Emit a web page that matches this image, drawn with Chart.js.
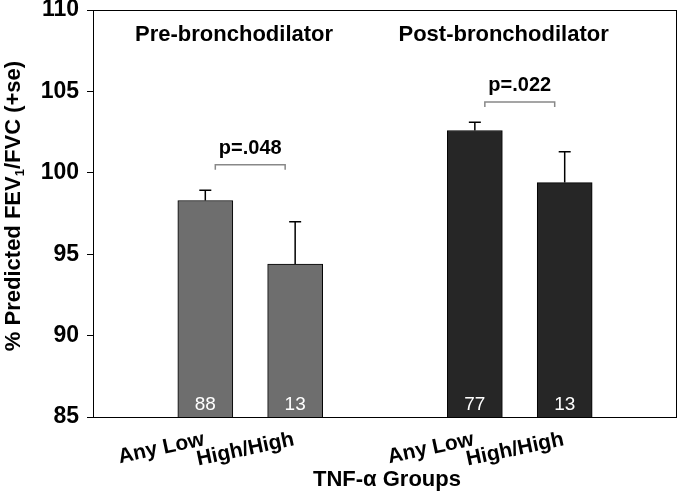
<!DOCTYPE html>
<html>
<head>
<meta charset="utf-8">
<script src="https://cdn.jsdelivr.net/npm/chart.js@4/dist/chart.umd.min.js"></script>
<style>
  html, body { margin: 0; padding: 0; background: #fff; }
  #wrap { width: 680px; height: 496px; position: relative; }
</style>
</head>
<body>
<div id="wrap"><canvas id="barChart"></canvas></div>
<script>
var groups = ['Pre-bronchodilator', 'Post-bronchodilator'];
var subgroups = ['Any Low', 'High/High'];
var preMeans = [98.3, 94.4];
var postMeans = [102.6, 99.4];
var preSE = [0.63, 2.6];
var postSE = [0.5, 1.9];
var preN = [88, 13];
var postN = [77, 13];
var pLabels = ['p=.048', 'p=.022'];
var pBracketLevels = [100.5, 104.35];
var yTicks = [85, 90, 95, 100, 105, 110];

var means = [preMeans, postMeans];
var errors = [preSE, postSE];
var counts = [preN, postN];
var colors = ['#6e6e6e', '#262626'];

// each group takes 3 slots on the x scale: two bars and an empty gap
function slot(g, j) { return g * 3 + j; }

var datasets = [];
for (var g = 0; g < groups.length; g++) {
    var pts = [];
    for (var j = 0; j < subgroups.length; j++) {
        pts.push({ x: slot(g, j), y: means[g][j] });
    }
    datasets.push({
        label: groups[g],
        data: pts,
        backgroundColor: colors[g],
        borderColor: '#000',
        borderWidth: 1,
        borderSkipped: false,
        barThickness: 55,
        grouped: false
    });
}

var FONT = '"Liberation Sans", Arial, sans-serif';

var decorations = {
    id: 'decorations',
    afterDatasetsDraw: function (chart) {
        var ctx = chart.ctx;
        var xs = chart.scales.x, ys = chart.scales.y;
        var area = chart.chartArea;
        ctx.save();

        // error bars
        ctx.strokeStyle = '#000';
        ctx.lineWidth = 1.5;
        for (var g = 0; g < groups.length; g++) {
            for (var j = 0; j < subgroups.length; j++) {
                var cx = xs.getPixelForValue(slot(g, j));
                var top = ys.getPixelForValue(means[g][j]);
                var end = ys.getPixelForValue(means[g][j] + errors[g][j]);
                ctx.beginPath();
                ctx.moveTo(cx, top);
                ctx.lineTo(cx, end);
                ctx.moveTo(cx - 6, end);
                ctx.lineTo(cx + 6, end);
                ctx.stroke();
            }
        }

        // n inside bars
        ctx.fillStyle = '#fff';
        ctx.font = '19px ' + FONT;
        ctx.textAlign = 'center';
        ctx.textBaseline = 'middle';
        for (g = 0; g < groups.length; g++) {
            for (j = 0; j < subgroups.length; j++) {
                ctx.fillText(String(counts[g][j]), xs.getPixelForValue(slot(g, j)), area.bottom - 12);
            }
        }

        // p-value brackets
        ctx.strokeStyle = '#888';
        ctx.lineWidth = 1.5;
        ctx.fillStyle = '#000';
        ctx.font = 'bold 20px ' + FONT;
        ctx.textBaseline = 'alphabetic';
        for (g = 0; g < groups.length; g++) {
            var x1 = xs.getPixelForValue(slot(g, 0)) + 10;
            var x2 = xs.getPixelForValue(slot(g, 1)) - 10;
            var by = ys.getPixelForValue(pBracketLevels[g]);
            ctx.beginPath();
            ctx.moveTo(x1, by + 5);
            ctx.lineTo(x1, by);
            ctx.lineTo(x2, by);
            ctx.lineTo(x2, by + 5);
            ctx.stroke();
            ctx.fillText(pLabels[g], (x1 + x2) / 2, by - 11);
        }

        // group titles
        ctx.font = 'bold 22px ' + FONT;
        for (g = 0; g < groups.length; g++) {
            ctx.fillText(groups[g], xs.getPixelForValue(slot(g, 0.5) - 0.18), area.top + 31);
        }

        // frame
        ctx.strokeStyle = '#000';
        ctx.lineWidth = 1;
        ctx.strokeRect(area.left + 0.5, area.top + 0.5, area.right - area.left - 1, area.bottom - area.top);

        // rotated category labels
        ctx.font = 'bold 21px ' + FONT;
        ctx.textAlign = 'right';
        for (g = 0; g < groups.length; g++) {
            for (j = 0; j < subgroups.length; j++) {
                ctx.save();
                ctx.translate(xs.getPixelForValue(slot(g, j)), area.bottom + 28);
                ctx.rotate(-12 * Math.PI / 180);
                ctx.fillText(subgroups[j], 0, 0);
                ctx.restore();
            }
        }

        // x axis title
        ctx.textAlign = 'center';
        ctx.textBaseline = 'middle';
        ctx.font = 'bold 22px ' + FONT;
        ctx.fillText('TNF-\u03b1 Groups', 387, 480);

        // y axis title with subscript
        ctx.save();
        ctx.translate(14, 206);
        ctx.rotate(-Math.PI / 2);
        var p1 = '% Predicted FEV', p2 = '/FVC (+se)';
        ctx.font = 'bold 22px ' + FONT;
        var w1 = ctx.measureText(p1).width, w3 = ctx.measureText(p2).width;
        ctx.font = 'bold 13px ' + FONT;
        var w2 = ctx.measureText('1').width;
        var start = -(w1 + w2 + w3) / 2;
        ctx.textAlign = 'left';
        ctx.font = 'bold 22px ' + FONT;
        ctx.fillText(p1, start, 0);
        ctx.font = 'bold 13px ' + FONT;
        ctx.fillText('1', start + w1, 6);
        ctx.font = 'bold 22px ' + FONT;
        ctx.fillText(p2, start + w1 + w2, 0);
        ctx.restore();

        ctx.restore();
    }
};

var mainChart = new Chart(document.getElementById('barChart'), {
    type: 'bar',
    data: { datasets: datasets },
    options: {
        responsive: true,
        maintainAspectRatio: false,
        animation: false,
        layout: { padding: { top: 10, right: 3, left: 0, bottom: 0 } },
        plugins: { legend: { display: false }, tooltip: { enabled: false } },
        scales: {
            x: {
                type: 'linear',
                offset: false,
                min: -1.25,
                max: 5.25,
                ticks: { display: false },
                grid: { display: false },
                border: { display: false },
                afterFit: function (scale) {
                    scale.height = 79;
                    scale.paddingLeft = 0;
                    scale.paddingRight = 0;
                }
            },
            y: {
                min: 85,
                max: 110,
                afterBuildTicks: function (scale) {
                    scale.ticks = yTicks.map(function (v) { return { value: v }; });
                },
                ticks: {
                    color: '#000',
                    padding: 8,
                    font: { family: FONT, size: 23, weight: 'bold' }
                },
                grid: { drawOnChartArea: false, drawTicks: true, tickLength: 6, color: '#000' },
                border: { display: false },
                afterFit: function (scale) {
                    scale.width = 93;
                    scale.paddingTop = 0;
                    scale.paddingBottom = 0;
                }
            }
        }
    },
    plugins: [decorations]
});
</script>
</body>
</html>
